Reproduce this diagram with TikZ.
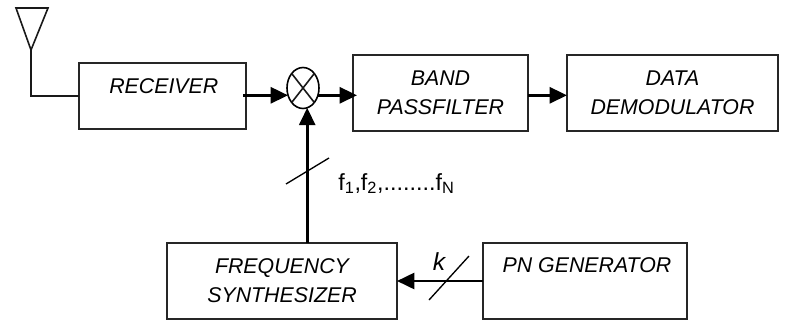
\documentclass[tikz,border=0pt]{standalone}
\usepackage{fontspec}
\setmainfont{Liberation Sans}
\usetikzlibrary{arrows.meta,shapes.geometric}
\tikzset{
 blk/.style={draw=black!85,line width=1.3pt,rectangle,inner sep=0pt,outer sep=0pt,anchor=north west,align=center,font=\fontsize{16}{21.7}\selectfont\itshape},
 blklabel/.style={align=center,inner sep=0pt,font=\fontsize{16}{21.7}\selectfont\itshape},
 wire/.style={draw=black!90,line width=1.2pt},
 sig/.style={draw=black,line width=2pt,-{Triangle[length=13pt,width=12pt]}},
 tick/.style={draw=black,line width=1pt},
}
\begin{document}
\begin{tikzpicture}[x=0.75pt,y=-0.75pt]
\useasboundingbox (0,0) rectangle (785,322);
\node[blk,minimum width=167*0.75pt,minimum height=66*0.75pt,label={[blklabel,yshift=7.5pt,xshift=1pt]center:RECEIVER}] (rx) at (79,63) {};
\node[blk,minimum width=175*0.75pt,minimum height=76*0.75pt] (bp) at (353,55) {BAND\\PASSFILTER};
\node[blk,minimum width=211*0.75pt,minimum height=76*0.75pt] (dd) at (567,55) {DATA\\DEMODULATOR};
\node[blk,minimum width=230*0.75pt,minimum height=76*0.75pt] (fs) at (167,243) {FREQUENCY\\SYNTHESIZER};
\node[blk,minimum width=204*0.75pt,minimum height=76*0.75pt,label={[blklabel,yshift=12pt,xshift=1.5pt]center:PN GENERATOR}] (pn) at (483,243) {};
\node[draw=black,line width=1.2pt,ellipse,minimum width=32*0.75pt,minimum height=41*0.75pt,inner sep=0pt,outer sep=0pt] (mx) at (303,88) {};
\draw[wire] (mx.north east) -- (mx.south west) (mx.north west) -- (mx.south east);
\coordinate (tip) at (31,50);
\coordinate (tl) at (16,8);
\coordinate (tr) at (48,8);
\coordinate (corner) at (31,96);
\draw[wire,line join=miter] (tl) -- (tr) -- (tip) -- cycle;
\draw[wire] (tip) -- (corner) -- (rx.west |- corner);
\coordinate (sigl) at (mx.206.7);
\coordinate (sigr) at (mx.-26.7);
\coordinate (sigb) at (mx.-78.6);
\draw[sig,shorten <=-2pt] (rx.east |- sigl) -- (sigl);
\draw[sig,shorten >=-3pt] (sigr) -- (bp.west |- sigr);
\draw[sig] (bp.east |- sigr) -- (dd.west |- sigr);
\draw[sig] (fs.north -| sigb) -- (sigb);
\draw[sig] (pn.west) -- (fs.east);
\coordinate (t1a) at (286,184);
\coordinate (t1b) at (329,158);
\coordinate (t2a) at (429,300);
\coordinate (t2b) at (469,256);
\draw[tick] (t1a) -- (t1b);
\draw[tick] (t2a) -- (t2b);
\node[font=\fontsize{17.5}{18}\selectfont,anchor=base west,inner sep=0pt] (fl) at (338,190) {f\textsubscript{1},f\textsubscript{2},........f\textsubscript{N}};
\node[font=\fontsize{18.5}{18}\selectfont\itshape,inner sep=0pt,anchor=base] (kl) at (439,270) {k};
\end{tikzpicture}
\end{document}
